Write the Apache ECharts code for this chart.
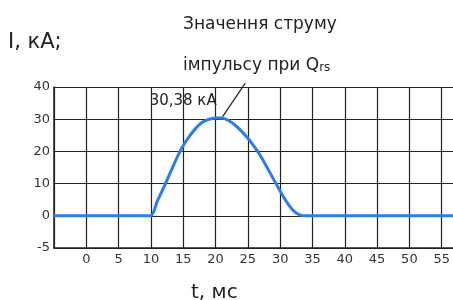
<!DOCTYPE html>
<html><head><meta charset="utf-8">
<script src="https://cdn.jsdelivr.net/npm/echarts@6/dist/echarts.min.js"></script>
<style>html,body{margin:0;padding:0;background:#fff;overflow:hidden}#c{width:453px;height:300px}</style>
</head><body><div id="c"></div>
<script>
const timeMs = [-5,0,5,10,11,12,13,14,15,16,17,18,19,20,21,22,23,24,25,26,27,28,29,30,31,32,33,34,35,40,45,50,55,60];
const currentKA = [0,0,0,0,4.6,8.9,13.4,17.9,21.8,24.8,27.3,29.1,30,30.35,30.38,29.6,28.2,26.3,24.1,21.5,18.5,14.9,11.3,7.7,4.3,1.7,0.3,0,0,0,0,0,0,0];
const xTicks = [0,5,10,15,20,25,30,35,40,45,50,55];
const yTickValues = [-10,0,10,20,30,40];
const yTickLabels = ['-5','0','10','20','30','40'];
const peakLabel = '30,38 кА';
const FONT = '"DejaVu Sans",sans-serif';
const chart = echarts.init(document.getElementById('c'));
chart.setOption({
  animation:false,
  grid:{left:54,right:-21,top:87,bottom:52,outerBoundsMode:'none',containLabel:false},
  xAxis:{type:'value',min:-5,max:60,interval:5,
    axisLine:{show:true,onZero:false,lineStyle:{color:'#222',width:1.5}},
    axisTick:{show:false},
    splitLine:{show:true,lineStyle:{color:'#222',width:1.2}},
    axisLabel:{color:'#333',fontFamily:FONT,fontSize:13,margin:5,
      formatter:v=>xTicks.includes(v)?String(v):''}},
  yAxis:{type:'value',min:-10,max:40,interval:10,
    axisLine:{show:true,onZero:false,lineStyle:{color:'#222',width:1.5}},
    axisTick:{show:false},
    splitLine:{show:true,lineStyle:{color:'#222',width:1.2}},
    axisLabel:{color:'#333',fontFamily:FONT,fontSize:13,margin:4,
      formatter:v=>{const i=yTickValues.indexOf(v);return i>=0?yTickLabels[i]:'';}}},
  series:[{type:'line',data:timeMs.map((t,i)=>[t,currentKA[i]]),smooth:0.2,symbol:'none',
    lineStyle:{color:'#2b7de9',width:3},z:5}]
});
const p1 = chart.convertToPixel({xAxisIndex:0,yAxisIndex:0},[21.1,30.8]);
const p2 = chart.convertToPixel({xAxisIndex:0,yAxisIndex:0},[24.6,41.2]);
const pl = chart.convertToPixel({xAxisIndex:0,yAxisIndex:0},[9.8,35.6]);
chart.setOption({graphic:[
  {type:'text',left:8,top:32,style:{text:'І, кА;',font:'21px '+FONT,fill:'#222'}},
  {type:'text',left:183,top:16,style:{text:'Значення струму',font:'17px '+FONT,fill:'#222'}},
  {type:'text',left:183,top:57,style:{rich:{a:{font:'17px '+FONT,fill:'#222'},b:{font:'12px '+FONT,fill:'#222',padding:[5,0,0,0]}},text:'{a|імпульсу при Q}{b|rs}'}},
  {type:'text',x:pl[0],y:pl[1],style:{text:peakLabel,font:'15px '+FONT,fill:'#222',textVerticalAlign:'middle'}},
  {type:'line',shape:{x1:p1[0],y1:p1[1],x2:p2[0],y2:p2[1]},style:{stroke:'#222',lineWidth:1.2}},
  {type:'text',left:191,top:283,style:{text:'t, мс',font:'20px '+FONT,fill:'#222'}}
]});
</script></body></html>
